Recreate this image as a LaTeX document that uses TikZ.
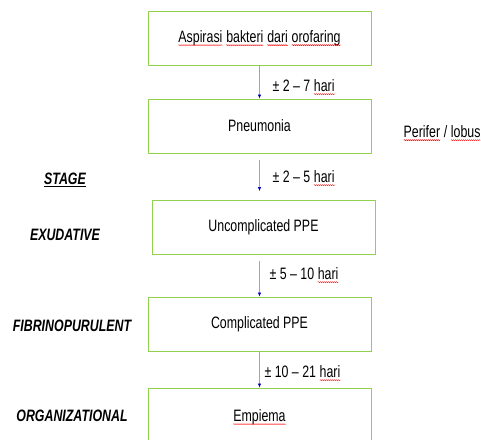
\documentclass[tikz,border=0pt]{standalone}
\usepackage{fontspec}
\setmainfont{Liberation Sans}[FakeStretch=0.75]
\usetikzlibrary{arrows.meta,decorations.pathmorphing}
\definecolor{boxgreen}{RGB}{146,208,80}
% red wavy line under a word, as the spell checker draws it
\newcommand\spell[1]{\tikz[baseline=(w.base)]{\node[draw=none, inner sep=0pt, outer sep=0pt, minimum size=0pt, anchor=center] (w) {#1};
    \draw[red, line width=0.4pt, decorate, decoration={snake, amplitude=0.5pt, segment length=2pt}]
      ([yshift=-3pt]w.base west) -- ([yshift=-3pt]w.base east);}}
\tikzset{
  stagebox/.style={draw=boxgreen, line width=0.9pt, minimum width=223pt, minimum height=54pt},
  timelabel/.style={anchor=west},
  stagelabel/.style={font=\fontsize{16.5}{18}\selectfont\bfseries\itshape},
  flow/.style={draw=blue!40, line width=0.6pt, -{Latex[length=4pt,width=3.5pt,color=blue!70!black]}}
}
\begin{document}
\begin{tikzpicture}[x=1pt, y=-1pt, font=\fontsize{16.5}{18}\selectfont]
    \clip (0,0) rectangle (481,439);
    \useasboundingbox (0,0) rectangle (481,439);
    % the boxes of the course, top to bottom
    \node[stagebox] (aspirasi) at (259.5,38) {\spell{Aspirasi} \spell{bakteri} \spell{dari} \spell{orofaring}};
    \node[stagebox] (pneumonia) at (259.5,126) {Pneumonia};
    \node[stagebox] (uncomplicated) at (263.5,227.5) {Uncomplicated PPE};
    \node[stagebox] (complicated) at (259.5,324) {Complicated PPE};
    \node[stagebox, minimum height=58pt] (empiema) at (259.5,417) {\spell{Empiema}};
    \node[anchor=west] (perifer) at (400,133) {\spell{Perifer} / \spell{lobus}};
    % stages on the left
    \node[stagelabel] (stage) at (65,180) {\underline{STAGE}};
    \node[stagelabel] (exudative) at (65,235) {EXUDATIVE};
    \node[stagelabel] (fibrino) at (72,326) {FIBRINOPURULENT};
    \node[stagelabel] (organizational) at (72,416) {ORGANIZATIONAL};
    % arrows and the time between
    \draw[flow] (aspirasi.south) -- (pneumonia.north);
    \draw[flow, shorten <=7pt, shorten >=9pt] (pneumonia.south) -- (pneumonia.south |- uncomplicated.north);
    \draw[flow, shorten <=6pt] (pneumonia.south |- uncomplicated.south) -- (complicated.north);
    \draw[flow] (complicated.south) -- (empiema.north);
    \node[timelabel] (t1) at (269,87) {± 2 – 7 \spell{hari}};
    \node[timelabel] (t2) at (269,178) {± 2 – 5 \spell{hari}};
    \node[timelabel] (t3) at (266,275) {± 5 – 10 \spell{hari}};
    \node[timelabel] (t4) at (261,373) {± 10 – 21 \spell{hari}};
\end{tikzpicture}
\end{document}
